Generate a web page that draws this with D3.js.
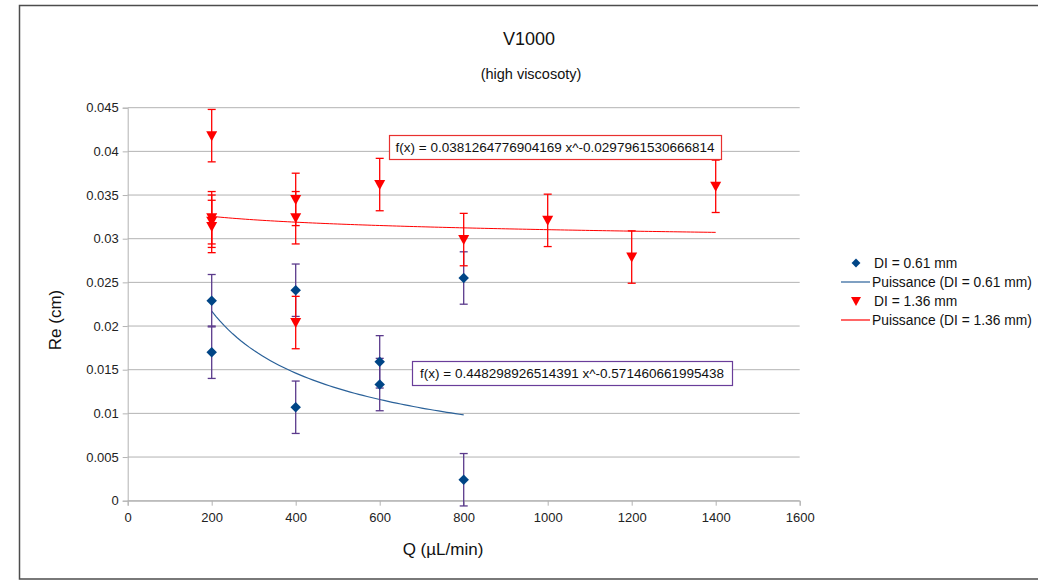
<!DOCTYPE html>
<html>
<head>
<meta charset="utf-8">
<script src="https://cdn.jsdelivr.net/npm/d3@7"></script>
<style>
  body { margin: 0; background: #fff; }
  svg { display: block; font-family: "Liberation Sans", Arial, sans-serif; }
</style>
</head>
<body>
<div id="chart"></div>
<script>
// Data
const smallX = [200, 200, 400, 400, 600, 600, 800, 800];
const smallY = [0.0229, 0.0170, 0.0241, 0.0107, 0.0159, 0.0133, 0.0255, 0.0024];
const smallErr = [0.003, 0.003, 0.003, 0.003, 0.003, 0.003, 0.003, 0.003];

const largeX = [200, 200, 200, 200, 400, 400, 400, 600, 800, 1000, 1200, 1400];
const largeY = [0.0418, 0.0324, 0.0320, 0.0314, 0.0345, 0.0324, 0.0204, 0.0362, 0.0299, 0.0321, 0.0279, 0.0360];
const largeErr = [0.003, 0.003, 0.003, 0.003, 0.003, 0.003, 0.003, 0.003, 0.003, 0.003, 0.003, 0.003];

// Power trend line coefficients (a * x^b) as printed on the chart
const smallFit = [0.448298926514391, -0.571460661995438];
const largeFit = [0.0381264776904169, -0.0297961530666814];
const smallFitRange = [200, 800];
const largeFitRange = [200, 1400];

const xTicks = [0, 200, 400, 600, 800, 1000, 1200, 1400, 1600];
const yTicks = [0, 0.005, 0.01, 0.015, 0.02, 0.025, 0.03, 0.035, 0.04, 0.045];

const legendLabels = ['DI = 0.61 mm', 'Puissance (DI = 0.61 mm)', 'DI = 1.36 mm', 'Puissance (DI = 1.36 mm)'];

const blue = '#004586';
const purple = '#5b3a8c';
const red = '#ff0000';
const grid = '#b3b3b3';

const width = 1038, height = 580;
const plot = { left: 127.7, right: 799.7, top: 107.7, bottom: 500.7 };

const svg = d3.select('#chart').append('svg')
  .attr('width', width)
  .attr('height', height);

// outer frame
svg.append('rect')
  .attr('x', 19.5).attr('y', 5.5)
  .attr('width', 1040).attr('height', 573.5)
  .attr('fill', 'none')
  .attr('stroke', '#4d4d4d')
  .attr('stroke-width', 1.5);

const x = d3.scaleLinear().domain([0, 1600]).range([plot.left, plot.right]);
const y = d3.scaleLinear().domain([0, 0.045]).range([plot.bottom, plot.top]);

// ✅ Gridlines
svg.append('g')
  .selectAll('line')
  .data(yTicks)
  .join('line')
  .attr('x1', plot.left).attr('x2', plot.right)
  .attr('y1', d => y(d)).attr('y2', d => y(d))
  .attr('stroke', grid).attr('stroke-width', 1);

// ✅ Axes
const fmtY = d => d === 0 ? '0' : String(+d.toFixed(3));
const yAxis = svg.append('g')
  .attr('transform', `translate(${plot.left},0)`)
  .call(d3.axisLeft(y).tickValues(yTicks).tickFormat(fmtY).tickSize(5).tickPadding(4));
const xAxis = svg.append('g')
  .attr('transform', `translate(0,${plot.bottom})`)
  .call(d3.axisBottom(x).tickValues(xTicks).tickFormat(d3.format('d')).tickSize(5).tickPadding(7));

[yAxis, xAxis].forEach(ax => {
  ax.select('.domain').attr('stroke', grid);
  ax.selectAll('.tick line').attr('stroke', grid);
  ax.selectAll('.tick text')
    .attr('fill', '#222')
    .style('font-size', '13px')
    .style('font-family', '"Liberation Sans", Arial, sans-serif');
});

// ✅ Trend lines
function fitPoints(fit, range) {
  return d3.range(range[0], range[1] + 1, 10).map(v => [v, fit[0] * Math.pow(v, fit[1])]);
}
const line = d3.line().x(d => x(d[0])).y(d => y(d[1]));

svg.append('path')
  .datum(fitPoints(largeFit, largeFitRange))
  .attr('d', line)
  .attr('fill', 'none')
  .attr('stroke', red)
  .attr('stroke-width', 1);

svg.append('path')
  .datum(fitPoints(smallFit, smallFitRange))
  .attr('d', line)
  .attr('fill', 'none')
  .attr('stroke', '#2a6199')
  .attr('stroke-width', 1.2);

// ✅ Error bars + markers
function drawSeries(xs, ys, errs, color) {
  const data = xs.map((v, i) => ({ x: v, y: ys[i], e: errs[i] }));
  const g = svg.append('g');
  const bars = g.selectAll('g.err').data(data).join('g').attr('class', 'err')
    .attr('stroke', color).attr('stroke-width', 1.3);
  bars.append('line')
    .attr('x1', d => x(d.x)).attr('x2', d => x(d.x))
    .attr('y1', d => y(d.y - d.e)).attr('y2', d => y(d.y + d.e));
  bars.append('line')
    .attr('x1', d => x(d.x) - 4).attr('x2', d => x(d.x) + 4)
    .attr('y1', d => y(d.y + d.e)).attr('y2', d => y(d.y + d.e));
  bars.append('line')
    .attr('x1', d => x(d.x) - 4).attr('x2', d => x(d.x) + 4)
    .attr('y1', d => y(d.y - d.e)).attr('y2', d => y(d.y - d.e));
  return data;
}

const smallData = drawSeries(smallX, smallY, smallErr, purple);
const largeData = drawSeries(largeX, largeY, largeErr, red);

const diamond = d3.symbol().type(d3.symbolDiamond2).size(70);
const triDown = 'M-5.5,-4.5 L5.5,-4.5 L0,5.5 Z';

svg.append('g').selectAll('path')
  .data(smallData)
  .join('path')
  .attr('d', diamond)
  .attr('transform', d => `translate(${x(d.x)},${y(d.y)})`)
  .attr('fill', blue);

svg.append('g').selectAll('path')
  .data(largeData)
  .join('path')
  .attr('d', triDown)
  .attr('transform', d => `translate(${x(d.x)},${y(d.y)})`)
  .attr('fill', red);

// ✅ Equation labels
function eqBox(bx, by, bw, bh, color, fit) {
  svg.append('rect')
    .attr('x', bx + 0.5).attr('y', by + 0.5)
    .attr('width', bw).attr('height', bh)
    .attr('fill', '#fff')
    .attr('stroke', color).attr('stroke-width', 1.2);
  svg.append('text')
    .attr('x', bx + bw / 2).attr('y', by + bh / 2 + 4.8)
    .attr('text-anchor', 'middle')
    .style('font-size', '13.5px')
    .attr('fill', '#111')
    .text(`f(x) = ${fit[0]} x^${fit[1]}`);
}
eqBox(389, 135, 332, 24, '#e8302f', largeFit);
eqBox(412, 361, 320, 24, '#6a3d9a', smallFit);

// ✅ Titles
svg.append('text')
  .attr('x', 529).attr('y', 45)
  .attr('text-anchor', 'middle')
  .style('font-size', '18px').attr('fill', '#111')
  .text('V1000');
svg.append('text')
  .attr('x', 531).attr('y', 79)
  .attr('text-anchor', 'middle')
  .style('font-size', '14.5px').attr('fill', '#111')
  .text('(high viscosoty)');
svg.append('text')
  .attr('x', 443).attr('y', 555)
  .attr('text-anchor', 'middle')
  .style('font-size', '17px').attr('fill', '#111')
  .text('Q (µL/min)');
svg.append('text')
  .attr('transform', 'translate(61,320) rotate(-90)')
  .attr('text-anchor', 'middle')
  .style('font-size', '17px').attr('fill', '#111')
  .text('Re (cm)');

// ✅ Legend
const legendY = [263, 282, 301, 320];
const legend = svg.append('g');
legendLabels.forEach((lbl, i) => {
  const ly = legendY[i];
  if (i === 0) {
    legend.append('path').attr('d', d3.symbol().type(d3.symbolDiamond2).size(50))
      .attr('transform', `translate(856,${ly})`).attr('fill', blue);
  } else if (i === 2) {
    legend.append('path').attr('d', 'M-5,-4 L5,-4 L0,5 Z')
      .attr('transform', `translate(856,${ly})`).attr('fill', red);
  } else {
    legend.append('line')
      .attr('x1', 841).attr('x2', 870).attr('y1', ly).attr('y2', ly)
      .attr('stroke', i === 1 ? '#2a6199' : red).attr('stroke-width', 1.2);
  }
  legend.append('text')
    .attr('x', i % 2 === 0 ? 874 : 872).attr('y', ly + 5)
    .style('font-size', '13.8px').attr('fill', '#111')
    .text(lbl);
});
</script>
</body>
</html>
